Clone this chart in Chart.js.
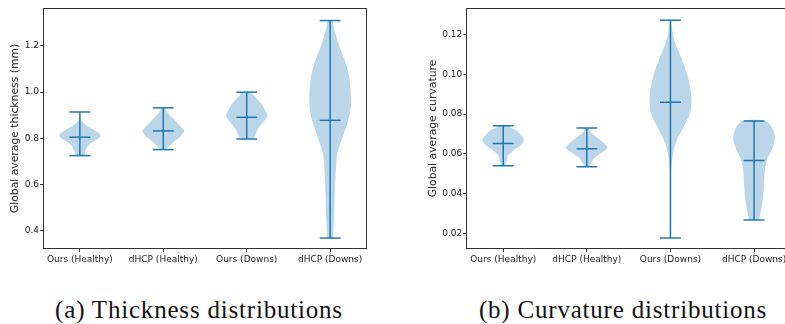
<!DOCTYPE html>
<html><head><meta charset="utf-8">
<script src="https://cdn.jsdelivr.net/npm/chart.js@4.4.0/dist/chart.umd.min.js"></script>
<style>
html,body{margin:0;padding:0;background:#fff;overflow:hidden;width:785px;height:324px;position:relative}
canvas{position:absolute;top:0}
#c1{left:0}
#c2{left:395px}
.cap{position:absolute;top:296px;font-family:"Liberation Serif",serif;font-size:25px;letter-spacing:0.8px;color:#111;white-space:nowrap;text-align:center;width:400px;line-height:28px}
</style></head><body>
<canvas id="c1" width="380" height="270"></canvas>
<canvas id="c2" width="400" height="270"></canvas>
<div class="cap" style="left:-1px">(a) Thickness distributions</div>
<div class="cap" style="left:423px">(b) Curvature distributions</div>
<script>
// ---- data ----
const categories = ['Ours (Healthy)', 'dHCP (Healthy)', 'Ours (Downs)', 'dHCP (Downs)'];
const positions = [1, 2, 3, 4];

// Thickness (mm): [value, relative half-width of violin]
const thkOursHealthy = [[0.725,0.22],[0.748,0.28],[0.761,0.35],[0.774,0.45],[0.787,0.65],[0.800,0.9],[0.813,1.0],[0.830,0.8],[0.848,0.45],[0.869,0.15],[0.887,0.03],[0.914,0.0]];
const thkDhcpHealthy = [[0.751,0.12],[0.762,0.25],[0.784,0.5],[0.806,0.8],[0.832,1.0],[0.849,0.85],[0.878,0.55],[0.907,0.25],[0.925,0.12],[0.932,0.08]];
const thkOursDowns = [[0.797,0.33],[0.813,0.4],[0.842,0.55],[0.871,0.8],[0.897,1.0],[0.914,0.92],[0.943,0.75],[0.972,0.48],[0.990,0.3],[1.000,0.2]];
const thkDhcpDowns = [[0.368,0.14],[0.459,0.19],[0.561,0.22],[0.661,0.27],[0.734,0.35],[0.806,0.6],[0.878,0.87],[0.950,1.0],[1.065,0.92],[1.138,0.7],[1.210,0.4],[1.270,0.2],[1.310,0.1]];
const thkMin = [0.725, 0.751, 0.797, 0.368];
const thkMax = [0.914, 0.932, 1.000, 1.310];
const thkMedian = [0.805, 0.832, 0.891, 0.878];
const thkTicks = [0.4, 0.6, 0.8, 1.0, 1.2];

// Curvature
const curOursHealthy = [[0.0540,0.1],[0.0561,0.15],[0.0594,0.25],[0.0620,0.52],[0.0645,0.85],[0.0670,1.0],[0.0695,0.85],[0.0720,0.6],[0.0735,0.3],[0.0741,0.2]];
const curDhcpHealthy = [[0.0536,0.12],[0.0553,0.2],[0.0578,0.35],[0.0603,0.67],[0.0628,1.0],[0.0645,0.9],[0.0670,0.65],[0.0695,0.33],[0.0720,0.1],[0.0730,0.05]];
const curOursDowns = [[0.0178,0.0],[0.0300,0.005],[0.0450,0.01],[0.0519,0.03],[0.0586,0.1],[0.0653,0.25],[0.0720,0.55],[0.0803,0.93],[0.0887,1.0],[0.0987,0.83],[0.1071,0.56],[0.1154,0.24],[0.1221,0.08],[0.1271,0.02]];
const curDhcpDowns = [[0.0269,0.24],[0.0310,0.32],[0.0377,0.43],[0.0461,0.48],[0.0528,0.53],[0.0578,0.64],[0.0628,0.88],[0.0678,1.0],[0.0728,0.88],[0.0765,0.56]];
const curMin = [0.0540, 0.0536, 0.0178, 0.0269];
const curMax = [0.0741, 0.0730, 0.1271, 0.0765];
const curMedian = [0.0652, 0.0626, 0.0859, 0.0567];
const curTicks = [0.02, 0.04, 0.06, 0.08, 0.10, 0.12];

// ---- drawing ----
const BLUE = '#1f77b4';
const BODY = 'rgba(31,119,180,0.3)';
const HALF = 0.25, CAP = 0.125;

function violinDatasets(profiles, mins, maxs, meds) {
  const ds = [];
  profiles.forEach((prof, i) => {
    const p = positions[i];
    const right = prof.map(([v, w]) => ({x: p + w * HALF, y: v}));
    const left = prof.slice().reverse().map(([v, w]) => ({x: p - w * HALF, y: v}));
    ds.push({data: right.concat(left), fill: 'shape', backgroundColor: BODY, borderWidth: 0, pointRadius: 0, tension: 0.3});
  });
  profiles.forEach((prof, i) => {
    const p = positions[i];
    const line = (pts) => ({data: pts, borderColor: BLUE, borderWidth: 1.5, pointRadius: 0, fill: false, tension: 0});
    ds.push(line([{x: p, y: mins[i]}, {x: p, y: maxs[i]}]));
    ds.push(line([{x: p - CAP, y: mins[i]}, {x: p + CAP, y: mins[i]}]));
    ds.push(line([{x: p - CAP, y: maxs[i]}, {x: p + CAP, y: maxs[i]}]));
    ds.push(line([{x: p - CAP, y: meds[i]}, {x: p + CAP, y: meds[i]}]));
  });
  return ds;
}

const framePlugin = {
  id: 'frame',
  afterDraw(chart) {
    const a = chart.chartArea, ctx = chart.ctx;
    ctx.save();
    ctx.strokeStyle = '#333';
    ctx.lineWidth = 1;
    ctx.strokeRect(Math.round(a.left) - 0.5, Math.round(a.top) - 0.5, Math.round(a.right - a.left) + 1, Math.round(a.bottom - a.top) + 1);
    ctx.restore();
  }
};

function makeChart(id, profiles, mins, maxs, meds, yMin, yMax, yTicks, dec, yTitle, yWidth, titlePad, padRight) {
  new Chart(document.getElementById(id), {
    type: 'line',
    data: {datasets: violinDatasets(profiles, mins, maxs, meds)},
    plugins: [framePlugin],
    options: {
      responsive: false, animation: false, devicePixelRatio: 1,
      layout: {padding: {top: 9, right: padRight, left: 0, bottom: 0}},
      plugins: {legend: {display: false}, tooltip: {enabled: false}},
      scales: {
        x: {
          type: 'linear', min: 0.57, max: 4.43,
          afterBuildTicks: s => { s.ticks = positions.map(v => ({value: v})); },
          afterFit: s => { s.height = 22; },
          border: {display: false},
          grid: {display: true, drawOnChartArea: false, drawTicks: true, tickLength: 4, color: '#333'},
          ticks: {autoSkip: false, maxRotation: 0, padding: 2, color: '#222',
            font: {family: 'DejaVu Sans', size: 9},
            callback: v => categories[Math.round(v) - 1]}
        },
        y: {
          type: 'linear', min: yMin, max: yMax,
          afterBuildTicks: s => { s.ticks = yTicks.map(v => ({value: v})); },
          afterFit: s => { s.width = yWidth; },
          border: {display: false},
          grid: {display: true, drawOnChartArea: false, drawTicks: true, tickLength: 4, color: '#333'},
          ticks: {padding: 1, color: '#222', font: {family: 'DejaVu Sans', size: 9},
            callback: v => Number(v).toFixed(dec)},
          title: {display: true, text: yTitle, color: '#222',
            font: {family: 'DejaVu Sans', size: 10.8}, padding: {top: titlePad, bottom: 0}}
        }
      }
    }
  });
}

makeChart('c1', [thkOursHealthy, thkDhcpHealthy, thkOursDowns, thkDhcpDowns], thkMin, thkMax, thkMedian,
  0.325, 1.360, thkTicks, 1, 'Global average thickness (mm)', 44, 8.5, 14);
makeChart('c2', [curOursHealthy, curDhcpHealthy, curOursDowns, curDhcpDowns], curMin, curMax, curMedian,
  0.0128, 0.1327, curTicks, 2, 'Global average curvature', 72.3, 31.5, 5);
</script>
</body></html>
